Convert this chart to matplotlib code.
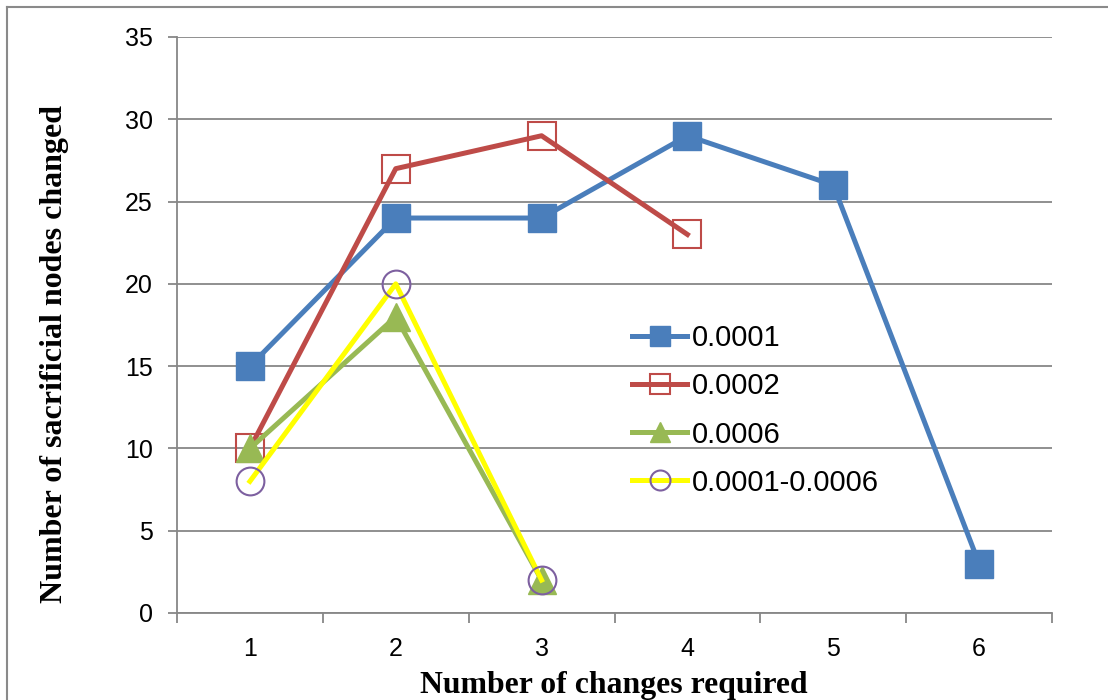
import matplotlib
matplotlib.use("Agg")
import matplotlib.pyplot as plt
from matplotlib.lines import Line2D
import numpy as np

# data
changes = [1, 2, 3, 4, 5, 6]
change_labels = ["1", "2", "3", "4", "5", "6"]
nodes_0001 = [15, 24, 24, 29, 26, 3]
nodes_0002 = [10, 27, 29, 23]
nodes_0006 = [10, 18, 2]
nodes_mixed = [8, 20, 2]
y_ticks = [0, 5, 10, 15, 20, 25, 30, 35]

GRAY = "#878787"

fig = plt.figure(figsize=(11.08, 7.0), dpi=100)
W, H = 1108.0, 700.0
ax = fig.add_axes([177 / W, 1 - 613 / H, (1052 - 177) / W, (613 - 37) / H])

ax.set_axisbelow(True)
ax.grid(axis="y", color=GRAY, linewidth=1.3)
for side in ("top", "right"):
    ax.spines[side].set_visible(False)
for side in ("left", "bottom"):
    ax.spines[side].set_color(GRAY)
    ax.spines[side].set_linewidth(1.3)

lw = 3.6
ax.plot(changes, nodes_0001, color="#4A7EBB", lw=lw, marker="s", ms=20,
        mfc="#4A7EBB", mec="#4A7EBB", mew=1, label="0.0001")
ax.plot(changes[:len(nodes_0002)], nodes_0002, color="#BE4B48", lw=lw, marker="s",
        ms=19.5, mfc="none", mec="#BE4B48", mew=1.5, label="0.0002")
ax.plot(changes[:len(nodes_0006)], nodes_0006, color="#98B954", lw=lw, marker="^",
        ms=20, mfc="#98B954", mec="#98B954", mew=1, label="0.0006")
ax.plot(changes[:len(nodes_mixed)], nodes_mixed, color="#FFFF00", lw=lw, marker="o",
        ms=20, mfc="none", mec="#7D60A0", mew=1.5, label="0.0001-0.0006")

ax.set_xlim(0.5, 6.5)
ax.set_ylim(0, 35)
ax.set_yticks(y_ticks)
ax.tick_params(axis="y", length=6.5, width=1.3, color=GRAY, pad=11,
               labelsize=18)

ax.set_xticks(np.arange(0.5, 7, 1))
ax.set_xticklabels([])
ax.set_xticks(changes, minor=True)
ax.set_xticklabels(change_labels, minor=True)
ax.tick_params(axis="x", which="major", length=7, width=1.3, color=GRAY)
ax.tick_params(axis="x", which="minor", length=0, pad=17, labelsize=18)
for t in ax.get_xticklabels(minor=True) + ax.get_yticklabels():
    t.set_fontfamily("Liberation Sans")

leg = ax.legend(loc="center left", bbox_to_anchor=(632 / W, 1 - 410.5 / H),
                bbox_transform=fig.transFigure, frameon=False, borderpad=0,
                borderaxespad=0, handlelength=1.9, handletextpad=0.15,
                labelspacing=0.69, markerscale=0.72,
                prop={"family": "Liberation Sans", "size": 21})

fig.text(614 / W, 1 - 693 / H, "Number of changes required", ha="center",
         va="baseline", fontsize=22.9, fontweight="bold", family="Liberation Serif")
fig.text(55 / W, 1 - 354 / H, "Number of sacrificial nodes changed", ha="center",
         va="center", rotation=90, fontsize=23, fontweight="bold",
         family="Liberation Serif")

# outer frame (top and left edges visible in the reference)
fig.add_artist(Line2D([7 / W, 1.0], [1 - 7 / H, 1 - 7 / H], color="#8A8A8A", lw=1.5))
fig.add_artist(Line2D([7 / W, 7 / W], [0.0, 1 - 7 / H], color="#8A8A8A", lw=1.5))

fig.savefig("out.png", dpi=100)
